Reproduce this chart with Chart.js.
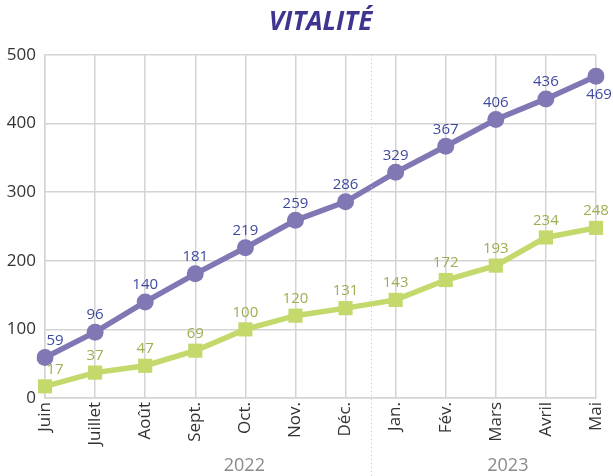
<!DOCTYPE html>
<html>
<head>
<meta charset="utf-8">
<script src="https://cdn.jsdelivr.net/npm/chart.js@4/dist/chart.umd.min.js"></script>
<style>
  html, body { margin: 0; padding: 0; background: #fff; }
  #wrap { width: 613px; height: 476px; }
</style>
</head>
<body>
<div id="wrap"><canvas id="vitalite"></canvas></div>
<script>
const MONTHS = ["Juin", "Juillet", "Août", "Sept.", "Oct.", "Nov.", "Déc.", "Jan.", "Fév.", "Mars", "Avril", "Mai"];
const PURPLE_VALUES = [59, 96, 140, 181, 219, 259, 286, 329, 367, 406, 436, 469];
const GREEN_VALUES = [17, 37, 47, 69, 100, 120, 131, 143, 172, 193, 234, 248];
const YEARS = ["2022", "2023"];
const Y_TICKS = [0, 100, 200, 300, 400, 500];

const FONT = "'Open Sans', 'Noto Sans', sans-serif";
const COLORS = {
  purple: "#7f78b4",
  purpleText: "#3f4a9f",
  green: "#c3d96c",
  greenText: "#9caf52",
  grid: "#d4d4d4",
  tick: "#333333",
  year: "#8a8a8a",
  title: "#3d3590",
};

// title, year labels, separator and value labels
const extras = {
  id: "extras",
  afterDatasetsDraw(chart) {
    const ctx = chart.ctx;
    const area = chart.chartArea;
    const x = chart.scales.x;
    ctx.save();

    // dotted separator between Déc. and Jan.
    const sx = Math.round(x.getPixelForValue(6.5)) + 0.5;
    ctx.strokeStyle = "#c8c8c8";
    ctx.lineWidth = 1;
    ctx.setLineDash([1, 3]);
    ctx.beginPath();
    ctx.moveTo(sx, area.top);
    ctx.lineTo(sx, chart.height);
    ctx.stroke();
    ctx.setLineDash([]);

    // year labels
    ctx.fillStyle = COLORS.year;
    ctx.font = "18px " + FONT;
    ctx.textAlign = "center";
    ctx.textBaseline = "middle";
    ctx.fillText(YEARS[0], x.getPixelForValue(3.98), 466);
    ctx.fillText(YEARS[1], x.getPixelForValue(9.24), 466);

    // title
    ctx.fillStyle = COLORS.title;
    ctx.font = "italic bold 26px " + FONT;
    ctx.fillText("VITALITÉ", (area.left + area.right) / 2, 23);

    // value labels
    ctx.font = "15px " + FONT;
    chart.data.datasets.forEach((ds, di) => {
      const meta = chart.getDatasetMeta(di);
      ctx.fillStyle = ds.labelColor;
      meta.data.forEach((pt, i) => {
        let lx = pt.x, ly = pt.y - 17;
        if (i === 0) lx += 10;
        if (di === 0 && i === ds.data.length - 1) { lx += 3; ly = pt.y + 18; }
        ctx.fillText(String(ds.data[i]), lx, ly);
      });
    });
    ctx.restore();
  },
};

new Chart(document.getElementById("vitalite"), {
  type: "line",
  data: {
    labels: MONTHS,
    datasets: [
      {
        label: "Vitalité",
        data: PURPLE_VALUES,
        borderColor: COLORS.purple,
        backgroundColor: COLORS.purple,
        labelColor: COLORS.purpleText,
        borderWidth: 5.5,
        pointRadius: 8.5,
        pointStyle: "circle",
        pointBorderWidth: 0,
        tension: 0,
      },
      {
        label: "Vitalité 2",
        data: GREEN_VALUES,
        borderColor: COLORS.green,
        backgroundColor: COLORS.green,
        labelColor: COLORS.greenText,
        borderWidth: 5.5,
        pointRadius: 10,
        pointStyle: "rect",
        pointBorderWidth: 0,
        tension: 0,
      },
    ],
  },
  options: {
    responsive: true,
    maintainAspectRatio: false,
    animation: false,
    layout: { padding: { top: 55, right: 17, left: 0, bottom: 0 } },
    plugins: {
      legend: { display: false },
      title: { display: false },
      tooltip: { enabled: false },
    },
    scales: {
      x: {
        offset: false,
        grid: { color: COLORS.grid, lineWidth: 1.5, drawTicks: false },
        border: { color: COLORS.grid, width: 1.5 },
        ticks: {
          color: COLORS.tick,
          font: { family: FONT, size: 17 },
          maxRotation: 90,
          minRotation: 90,
          padding: 4,
          autoSkip: false,
        },
        afterFit(scale) {
          scale.height = 78;
          scale.paddingRight = 0;
          scale.paddingLeft = 0;
        },
      },
      y: {
        min: 0,
        max: 500,
        afterBuildTicks(scale) { scale.ticks = Y_TICKS.map(v => ({ value: v })); },
        grid: { color: COLORS.grid, lineWidth: 1.5, drawTicks: false },
        border: { color: COLORS.grid, width: 1.5 },
        ticks: {
          color: COLORS.tick,
          font: { family: FONT, size: 17 },
          padding: 9,
        },
        afterFit(scale) { scale.width = 45; },
      },
    },
  },
  plugins: [extras],
});
</script>
</body>
</html>
